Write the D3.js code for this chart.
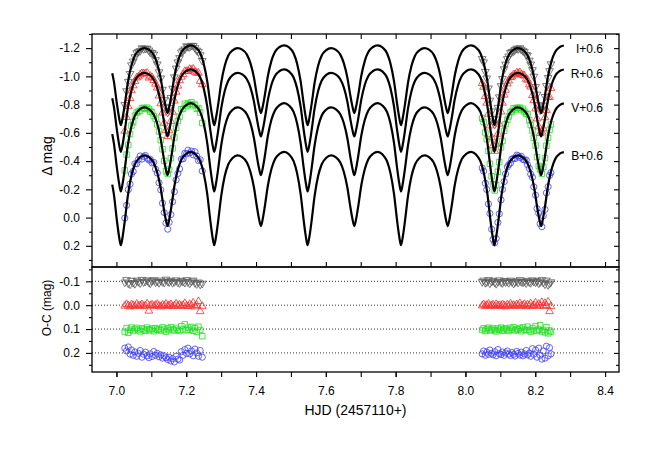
<!DOCTYPE html>
<html>
<head>
<meta charset="utf-8">
<script src="https://cdn.jsdelivr.net/npm/d3@7"></script>
<style>
  body { margin: 0; background: #fff; }
  svg { font-family: "Liberation Sans", Arial, sans-serif; }
</style>
</head>
<body>
<script>
// ---- data ----
var bands = ["I", "R", "V", "B"];
var bandLabels = ["I+0.6", "R+0.6", "V+0.6", "B+0.6"];
var labelMag = [-1.195, -1.02, -0.775, -0.435];
var ocOffset = [-0.1, 0.0, 0.1, 0.2];

// ephemeris of the model curves (primary minimum, period in days)
var T0 = 7.0126, PERIOD = 0.2676;
var modelStart = 6.988, modelEnd = 8.282;

// one cycle of the fitted light curve, per band
var modelPhase = [0, 0.02, 0.0425, 0.075, 0.1125, 0.15, 0.2, 0.25, 0.3, 0.35, 0.3875, 0.425, 0.4575, 0.48, 0.5,
  0.52, 0.5425, 0.575, 0.6125, 0.65, 0.7, 0.75, 0.8, 0.85, 0.8875, 0.925, 0.9575, 0.98, 1.0];
var modelI = [-0.655, -0.710, -0.802, -0.955, -1.075, -1.146, -1.186, -1.200, -1.189, -1.154, -1.094, -0.993, -0.864, -0.786, -0.740,
  -0.788, -0.870, -1.004, -1.110, -1.172, -1.208, -1.220, -1.206, -1.164, -1.090, -0.966, -0.808, -0.712, -0.655];
var modelR = [-0.465, -0.521, -0.616, -0.773, -0.896, -0.969, -1.011, -1.025, -1.014, -0.980, -0.922, -0.823, -0.697, -0.620, -0.575,
  -0.623, -0.703, -0.836, -0.941, -1.003, -1.038, -1.050, -1.035, -0.992, -0.915, -0.787, -0.623, -0.524, -0.465];
var modelV = [-0.185, -0.245, -0.346, -0.512, -0.643, -0.721, -0.765, -0.780, -0.768, -0.732, -0.670, -0.564, -0.430, -0.348, -0.300,
  -0.351, -0.438, -0.581, -0.693, -0.759, -0.797, -0.810, -0.794, -0.748, -0.666, -0.529, -0.354, -0.248, -0.185];
var modelB = [0.196, 0.132, 0.024, -0.154, -0.294, -0.376, -0.424, -0.440, -0.428, -0.390, -0.325, -0.215, -0.075, 0.010, 0.060,
  0.008, -0.082, -0.229, -0.344, -0.413, -0.452, -0.465, -0.448, -0.399, -0.313, -0.168, 0.018, 0.130, 0.196];

// observation times, two nights
var night1 = [7.024, 7.029, 7.034, 7.039, 7.043, 7.048, 7.053, 7.058, 7.063, 7.068, 7.073, 7.078, 7.083, 7.088, 7.093, 7.097,
  7.102, 7.107, 7.112, 7.117, 7.122, 7.127, 7.132, 7.137, 7.142, 7.147, 7.151, 7.156, 7.161, 7.166, 7.171, 7.176,
  7.181, 7.186, 7.191, 7.196, 7.201, 7.205, 7.210, 7.215, 7.220, 7.225, 7.230, 7.235, 7.240, 7.246];
var night2 = [8.048, 8.052, 8.057, 8.061, 8.066, 8.070, 8.075, 8.079, 8.084, 8.088, 8.093, 8.097, 8.102, 8.106, 8.111,
  8.115, 8.120, 8.124, 8.129, 8.133, 8.138, 8.142, 8.147, 8.151, 8.156, 8.160, 8.165, 8.169, 8.174, 8.178, 8.183,
  8.187, 8.192, 8.196, 8.201, 8.205, 8.210, 8.214, 8.219, 8.223, 8.228, 8.232, 8.237, 8.241, 8.245];

// O-C residuals (mag)
var ocI1 = [0.004, -0.006, 0.008, 0.012, -0.003, 0.006, 0.010, -0.004, 0.002, 0.007, -0.007, 0.003, 0.000, -0.005, 0.004, 0.008,
  -0.002, -0.006, 0.003, 0.001, 0.006, -0.004, 0.002, 0.005, -0.008, 0.000, 0.003, -0.003, 0.006, 0.002, -0.005, 0.004,
  0.007, -0.002, 0.001, 0.005, -0.006, 0.003, 0.008, 0.000, -0.004, 0.006, 0.011, 0.004, 0.013, 0.009];
var ocI2 = [0.002, -0.004, 0.006, 0.003, -0.006, 0.008, 0.001, -0.003, 0.005, 0.010, 0.002, -0.005, 0.004, 0.007, -0.002,
  0.003, 0.000, 0.006, -0.004, 0.002, 0.009, 0.003, -0.001, 0.005, -0.006, 0.002, 0.004, 0.000, 0.007, -0.003, 0.003,
  0.006, -0.005, 0.001, 0.004, -0.002, 0.008, 0.003, -0.006, 0.005, 0.012, -0.004, 0.015, 0.009, 0.003];
var ocR1 = [0.003, -0.004, 0.002, 0.006, -0.002, 0.000, 0.005, -0.005, 0.003, 0.001, -0.003, 0.004, 0.002, -0.006, 0.024, 0.001,
  -0.002, 0.004, 0.000, -0.004, 0.003, 0.006, -0.001, 0.002, -0.005, 0.004, 0.000, -0.003, 0.005, 0.002, -0.006, 0.003,
  -0.002, 0.004, 0.001, -0.008, 0.003, 0.005, -0.004, 0.002, -0.010, 0.006, 0.000, -0.016, 0.026, 0.004];
var ocR2 = [0.002, -0.003, 0.004, 0.000, -0.005, 0.003, 0.001, -0.002, 0.005, -0.004, 0.002, 0.000, 0.004, -0.003, 0.001,
  0.006, -0.002, 0.003, -0.006, 0.002, 0.000, 0.004, -0.003, 0.002, -0.008, 0.003, 0.001, -0.004, 0.005, -0.002, 0.002,
  -0.007, 0.004, 0.000, -0.010, 0.003, -0.005, 0.002, -0.012, 0.004, -0.008, 0.001, -0.014, 0.026, 0.005];
var ocV1 = [0.012, -0.004, 0.016, 0.003, -0.006, 0.008, 0.000, -0.005, 0.004, 0.010, -0.003, 0.002, 0.007, -0.006, 0.001, 0.005,
  -0.002, 0.009, -0.004, 0.003, 0.000, 0.006, -0.007, 0.002, 0.011, -0.003, 0.004, -0.008, 0.001, 0.006, -0.005, 0.003,
  0.008, -0.012, 0.002, -0.020, 0.005, -0.006, 0.003, -0.009, 0.007, -0.004, 0.012, -0.010, 0.004, 0.030];
var ocV2 = [0.004, -0.003, 0.008, 0.000, -0.005, 0.006, 0.002, -0.004, 0.005, 0.010, -0.002, 0.003, -0.006, 0.007, 0.001,
  -0.003, 0.004, 0.008, -0.005, 0.002, -0.008, 0.006, 0.000, 0.003, -0.004, 0.009, -0.007, 0.002, 0.005, -0.010, 0.004,
  0.011, -0.003, 0.006, -0.012, 0.008, 0.002, -0.016, 0.010, 0.004, 0.014, -0.008, 0.018, 0.006, 0.012];
var ocB1 = [-0.020, -0.008, -0.025, 0.005, -0.012, 0.010, -0.004, 0.014, 0.002, -0.010, 0.018, 0.006, -0.003, 0.012, 0.020, 0.004,
  0.015, -0.006, 0.010, 0.002, 0.016, 0.008, 0.022, 0.012, 0.020, 0.028, 0.018, 0.034, 0.024, 0.038, 0.014, 0.026,
  0.030, -0.005, 0.010, -0.014, 0.002, -0.020, 0.004, -0.008, 0.012, -0.016, 0.000, 0.014, -0.010, 0.018];
var ocB2 = [0.004, -0.008, 0.010, -0.003, 0.006, -0.012, 0.002, 0.008, -0.005, 0.012, -0.014, 0.003, 0.007, -0.004, 0.010,
  0.000, -0.008, 0.005, 0.011, -0.002, 0.006, 0.013, -0.006, 0.002, 0.009, -0.003, 0.012, 0.004, -0.010, 0.008, 0.001,
  0.014, -0.018, 0.006, -0.012, 0.018, -0.020, 0.010, 0.026, -0.008, 0.022, -0.028, 0.012, -0.022, 0.004];

// tick values
var xTicks = [7.0, 7.1, 7.2, 7.3, 7.4, 7.5, 7.6, 7.7, 7.8, 7.9, 8.0, 8.1, 8.2, 8.3, 8.4];
var xLabels = [7.0, 7.2, 7.4, 7.6, 7.8, 8.0, 8.2, 8.4];
var magMajor = [-1.2, -1.0, -0.8, -0.6, -0.4, -0.2, 0.0, 0.2];
var magMinor = [-1.3, -1.1, -0.9, -0.7, -0.5, -0.3, -0.1, 0.1, 0.3];
var ocMajor = [-0.1, 0.0, 0.1, 0.2];
var ocMinor = [-0.15, -0.05, 0.05, 0.15, 0.25];

// ---- drawing ----
var models = [modelI, modelR, modelV, modelB];
var residuals = [[ocI1, ocI2], [ocR1, ocR2], [ocV1, ocV2], [ocB1, ocB2]];
var colors = ["#5a5a5a", "#ff2b2b", "#1fe01f", "#3b3bff"];
var symbols = [
  d3.symbol().type(d3.symbolTriangle).size(26),
  d3.symbol().type(d3.symbolTriangle).size(26),
  d3.symbol().type(d3.symbolSquare).size(30),
  d3.symbol().type(d3.symbolCircle).size(30)
];
var rotations = [180, 0, 0, 0];

var W = 654, H = 454;
var L = 92, R = 619, topY = 34, midY = 267, botY = 372;

var svg = d3.select("body").append("svg").attr("width", W).attr("height", H);

var x = d3.scaleLinear().domain([6.93, 8.44]).range([L, R]);
var yMag = d3.scaleLinear().domain([-1.3, 0.35]).range([topY, midY]);
var yOC = d3.scaleLinear().domain([-0.16, 0.28]).range([midY, botY]);

function modelAt(mags, t) {
  var ph = ((t - T0) / PERIOD) % 1;
  if (ph < 0) ph += 1;
  var i = d3.bisectRight(modelPhase, ph) - 1;
  if (i >= modelPhase.length - 1) i = modelPhase.length - 2;
  var f = (ph - modelPhase[i]) / (modelPhase[i + 1] - modelPhase[i]);
  return mags[i] + f * (mags[i + 1] - mags[i]);
}

function curvePoints(mags) {
  var pts = [[modelStart, modelAt(mags, modelStart)]];
  var k0 = Math.floor((modelStart - T0) / PERIOD), k1 = Math.ceil((modelEnd - T0) / PERIOD);
  for (var k = k0; k <= k1; k++) {
    for (var j = 0; j < modelPhase.length - 1; j++) {
      var t = T0 + (k + modelPhase[j]) * PERIOD;
      if (t > modelStart && t < modelEnd) pts.push([t, mags[j]]);
    }
  }
  pts.push([modelEnd, modelAt(mags, modelEnd)]);
  return pts;
}

// dotted reference lines in the O-C panel
svg.append("g").selectAll("line")
  .data(ocOffset).enter().append("line")
  .attr("x1", L).attr("x2", x(8.4))
  .attr("y1", function(d) { return yOC(d); })
  .attr("y2", function(d) { return yOC(d); })
  .attr("stroke", "#333").attr("stroke-width", 1)
  .attr("stroke-dasharray", "1,2");

// observed points, top panel (model + O-C) and bottom panel (O-C + offset)
bands.forEach(function(b, bi) {
  var obs = [];
  [night1, night2].forEach(function(times, n) {
    times.forEach(function(t, i) {
      var r = residuals[bi][n][i];
      if (r === undefined) return;
      obs.push({ t: t, r: r });
    });
  });
  var g = svg.append("g").attr("fill", "none").attr("stroke", colors[bi]).attr("stroke-width", 0.8);
  g.selectAll("path.top").data(obs).enter().append("path")
    .attr("class", "top")
    .attr("d", symbols[bi])
    .attr("transform", function(d) {
      return "translate(" + x(d.t) + "," + yMag(modelAt(models[bi], d.t) + d.r) + ") rotate(" + rotations[bi] + ")";
    });
  g.selectAll("path.oc").data(obs).enter().append("path")
    .attr("class", "oc")
    .attr("d", symbols[bi])
    .attr("transform", function(d) {
      return "translate(" + x(d.t) + "," + yOC(ocOffset[bi] + d.r) + ") rotate(" + rotations[bi] + ")";
    });
});

// model light curves
var line = d3.line()
  .x(function(d) { return x(d[0]); })
  .y(function(d) { return yMag(d[1]); })
  .curve(d3.curveMonotoneX);

models.forEach(function(m) {
  svg.append("path")
    .attr("d", line(curvePoints(m)))
    .attr("fill", "none")
    .attr("stroke", "#000")
    .attr("stroke-width", 2.2)
    .attr("stroke-linejoin", "round");
});

// band labels
svg.append("g").selectAll("text")
  .data(bandLabels).enter().append("text")
  .attr("x", 603)
  .attr("y", function(d, i) { return yMag(labelMag[i]); })
  .attr("dy", "0.35em")
  .attr("text-anchor", "end")
  .attr("font-size", 12)
  .text(function(d) { return d; });

// axes
function fmt1(d) { return d.toFixed(1); }

function axis(gen, scale, values, size, format, tx, ty, pad) {
  var a = gen(scale).tickValues(values).tickSize(size).tickPadding(pad || 6).tickFormat(format || "");
  var g = svg.append("g").attr("transform", "translate(" + tx + "," + ty + ")").call(a);
  g.select(".domain").remove();
  g.attr("font-family", null).attr("font-size", 12);
  g.selectAll("line").attr("stroke", "#000").attr("stroke-width", 1.1);
  g.selectAll("text").attr("fill", "#000");
  return g;
}

// top panel
axis(d3.axisLeft, yMag, magMajor, 6, fmt1, L, 0, 6);
axis(d3.axisLeft, yMag, magMinor, 3, null, L, 0);
axis(d3.axisLeft, yMag, magMajor, 5, null, R, 0);
axis(d3.axisLeft, yMag, magMinor, 3, null, R, 0);
axis(d3.axisBottom, x, xTicks, 5, null, 0, topY);
axis(d3.axisTop, x, xTicks, 5, null, 0, midY);

// O-C panel
axis(d3.axisLeft, yOC, ocMajor, 6, fmt1, L, 0, 6);
axis(d3.axisLeft, yOC, ocMinor, 3, null, L, 0);
axis(d3.axisLeft, yOC, ocMajor, 5, null, R, 0);
axis(d3.axisLeft, yOC, ocMinor, 3, null, R, 0);
axis(d3.axisBottom, x, xTicks, 5, null, 0, botY);
axis(d3.axisBottom, x, xLabels, 5, fmt1, 0, botY, 9);

// frames
svg.append("rect").attr("x", L).attr("y", topY).attr("width", R - L).attr("height", midY - topY)
  .attr("fill", "none").attr("stroke", "#000").attr("stroke-width", 1.3);
svg.append("rect").attr("x", L).attr("y", midY).attr("width", R - L).attr("height", botY - midY)
  .attr("fill", "none").attr("stroke", "#000").attr("stroke-width", 1.3);

// axis titles
svg.append("text")
  .attr("x", (L + R) / 2).attr("y", 415)
  .attr("text-anchor", "middle").attr("font-size", 14)
  .text("HJD (2457110+)");
svg.append("text")
  .attr("transform", "translate(52,156) rotate(-90)")
  .attr("text-anchor", "middle").attr("font-size", 14)
  .text("\u0394 mag");
svg.append("text")
  .attr("transform", "translate(51,308) rotate(-90)")
  .attr("text-anchor", "middle").attr("font-size", 12)
  .text("O-C (mag)");
</script>
</body>
</html>
